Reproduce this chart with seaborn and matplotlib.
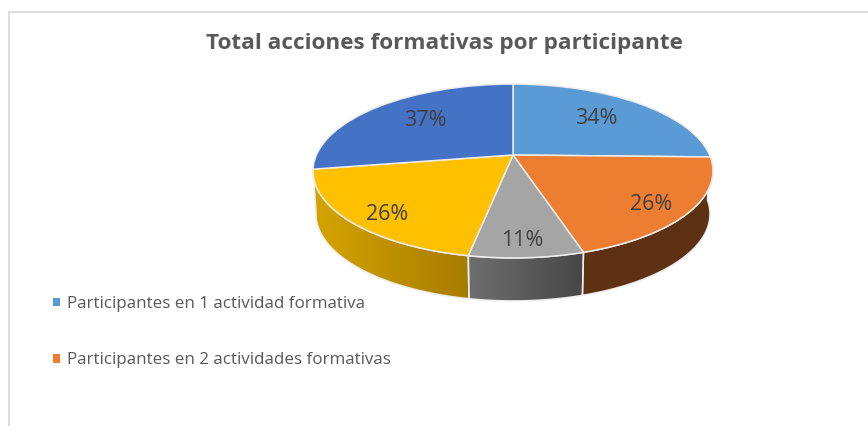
import numpy as np
import matplotlib
matplotlib.use("Agg")
import matplotlib.pyplot as plt
import seaborn as sns
from matplotlib.colors import LinearSegmentedColormap
from matplotlib.patches import Polygon
from matplotlib.transforms import Transform

title = "Total acciones formativas por participante"
legend_labels = ["Participantes en 1 actividad formativa",
                 "Participantes en 2 actividades formativas"]
slice_sizes = [34, 26.6, 10.4, 26, 37]
percent_labels = ["34%", "26%", "11%", "26%", "37%"]
slice_colors = ["#5B9BD5", "#ED7D31", "#A5A5A5", "#FFC000", "#4472C4"]
wall_shades = [None, ("#5E3113", "#5E3113"), ("#6E6E6E", "#474747"),
               ("#D6A400", "#A67C00"), None]

APEX = (513, 155)
RX, RY, PERSP = 196.6, 84.0, 0.1837
DEPTH, SHRINK = 43.0, 0.985
LABEL_POS = [(596, 119), (651, 205), (522, 241), (387, 214), (425, 120)]


def project(u, v, depth=0.0, shrink=1.0):
    d = 1 + PERSP * v
    return APEX[0] + shrink * RX * u / d, APEX[1] + depth - RY * v / d


class Perspective(Transform):
    input_dims = output_dims = 2

    def transform_non_affine(self, values):
        x, y = project(values[:, 0], values[:, 1])
        return np.column_stack([x, y])


sns.set_theme(style="white")
plt.rcParams["font.family"] = ["Open Sans", "DejaVu Sans"]
palette = sns.color_palette(slice_colors)

fig = plt.figure(figsize=(8.68, 4.26), dpi=100, facecolor="white")
ax = fig.add_axes([0, 0, 1, 1])

wedges, _ = ax.pie(slice_sizes, colors=palette, startangle=90, counterclock=False,
                   wedgeprops=dict(edgecolor="#EDEDED", linewidth=1.1))
ax.set_aspect("auto")
ax.set_xlim(0, 868)
ax.set_ylim(426, 0)
ax.axis("off")

proj = Perspective()
for w in wedges:
    w.set_transform(proj + ax.transData)
    w.set_zorder(5)

# side walls of the cylinder, from the angles of the library's own wedges
for w, shade in zip(wedges, wall_shades):
    if shade is None:
        continue
    t = np.radians(np.linspace(w.theta1, w.theta2, 80))
    xt, yt = project(np.cos(t), np.sin(t))
    xb, yb = project(np.cos(t), np.sin(t), DEPTH, SHRINK)
    pts = np.column_stack([np.r_[xt, xb[::-1]], np.r_[yt, yb[::-1]]])
    poly = Polygon(pts, closed=True, facecolor="none", edgecolor="#EDEDED",
                   linewidth=1.1, zorder=3)
    ax.add_patch(poly)
    cmap = LinearSegmentedColormap.from_list("wall", list(shade))
    im = ax.imshow(np.linspace(0, 1, 256)[None, :], cmap=cmap, aspect="auto",
                   extent=(pts[:, 0].min(), pts[:, 0].max(), pts[:, 1].max(), pts[:, 1].min()),
                   zorder=2)
    im.set_clip_path(poly)

ax.set_xlim(0, 868)
ax.set_ylim(426, 0)

for lab, (x, y) in zip(percent_labels, LABEL_POS):
    ax.text(x, y, lab, ha="center", va="center", fontsize=15.5, color="#404040", zorder=6)

ax.text(444, 43, title, ha="center", va="center", fontsize=16.2, fontweight="bold", color="#595959")

# chart frame, cropped by the picture on the right and at the bottom
ax.plot([8.5, 8.5, 868], [426, 12, 12], color="#D9D9D9", linewidth=1.3, zorder=1)

leg = ax.legend(wedges[:2], legend_labels, loc="upper left", bbox_to_anchor=(53, 296),
                bbox_transform=ax.transData, frameon=False, fontsize=12.25,
                labelcolor="#595959", handlelength=0.41, handleheight=0.41,
                handletextpad=0.42, labelspacing=2.38, borderpad=0, borderaxespad=0)
for h in leg.legend_handles:
    h.set_edgecolor("none")

fig.savefig("out.png", dpi=100)
